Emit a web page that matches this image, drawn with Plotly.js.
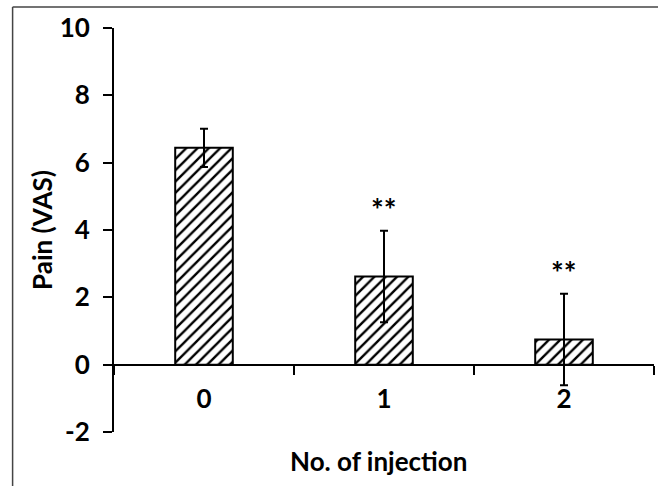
<!DOCTYPE html>
<html>
<head>
<meta charset="utf-8">
<script src="https://cdn.plot.ly/plotly-3.0.1.min.js"></script>
<style>
  html, body { margin: 0; padding: 0; background: #fff; }
  #chart { width: 658px; height: 486px; }
</style>
</head>
<body>
<div id="chart"></div>
<script>
// Data
const categories = ['0', '1', '2'];
const painMean = [6.44, 2.62, 0.75];
const painErr = [0.57, 1.36, 1.36];
const significance = ['', '**', '**'];
const yTickValues = [-2, 0, 2, 4, 6, 8, 10];

const FONT = 'Lato, "Open Sans", "DejaVu Sans", sans-serif';
const tickFont = { family: FONT, size: 26, color: 'black', weight: 'bold' };
const titleFont = { family: FONT, size: 26, color: 'black', weight: 'bold' };

const trace = {
  type: 'bar',
  x: categories,
  y: painMean,
  width: 0.32,
  marker: {
    color: 'white',
    line: { color: 'black', width: 2 },
    pattern: { shape: '/', size: 8, solidity: 0.3, fgcolor: 'black', bgcolor: 'white' }
  },
  error_y: {
    type: 'data',
    array: painErr,
    visible: true,
    color: 'black',
    thickness: 2,
    width: 4
  },
  hoverinfo: 'skip'
};

const annotations = categories.map((c, i) => ({
  x: c,
  y: painMean[i] + painErr[i],
  xref: 'x',
  yref: 'y',
  text: significance[i],
  showarrow: false,
  yanchor: 'bottom',
  yshift: 2,
  font: { family: FONT, size: 30, color: 'black', weight: 'bold' }
})).filter(a => a.text !== '');

annotations.push({
  xref: 'paper', yref: 'paper',
  x: (378 - 114) / 540, y: (486 - 461 - 54) / 404,
  xanchor: 'center', yanchor: 'middle',
  text: 'No. of injection',
  showarrow: false,
  font: titleFont
});

annotations.push({
  xref: 'paper', yref: 'paper',
  x: (42 - 114) / 540, y: (486 - 230 - 54) / 404,
  xanchor: 'center', yanchor: 'middle',
  textangle: -90,
  text: 'Pain (VAS)',
  showarrow: false,
  font: titleFont
});

const layout = {
  width: 658,
  height: 486,
  margin: { l: 114, r: 4, t: 28, b: 54 },
  paper_bgcolor: 'white',
  plot_bgcolor: 'white',
  showlegend: false,
  xaxis: {
    type: 'category',
    anchor: 'free',
    position: 2 / 12,
    showline: true,
    linecolor: 'black',
    linewidth: 2,
    ticks: 'outside',
    tickson: 'boundaries',
    ticklen: 9,
    tickwidth: 2,
    tickcolor: 'black',
    showgrid: false,
    zeroline: false,
    ticklabelstandoff: 11,
    tickfont: tickFont
  },
  yaxis: {
    range: [-2, 10],
    tickvals: yTickValues,
    ticktext: yTickValues.map(String),
    showline: true,
    linecolor: 'black',
    linewidth: 2,
    ticks: 'outside',
    ticklen: 9,
    tickwidth: 2,
    tickcolor: 'black',
    showgrid: false,
    zeroline: false,
    ticklabelstandoff: 8,
    tickfont: tickFont
  },
  annotations: annotations,
  shapes: [
    { type: 'line', xref: 'paper', yref: 'paper', x0: (12.6 - 114) / 540, x1: 1.01, y0: (486 - 7 - 54) / 404, y1: (486 - 7 - 54) / 404, line: { color: '#444', width: 1.5 } },
    { type: 'line', xref: 'paper', yref: 'paper', x0: (12.6 - 114) / 540, x1: (12.6 - 114) / 540, y0: (486 - 7 - 54) / 404, y1: -0.2, line: { color: '#444', width: 1.5 } }
  ]
};

Plotly.newPlot('chart', [trace], layout, { staticPlot: true, displayModeBar: false });
</script>
</body>
</html>
